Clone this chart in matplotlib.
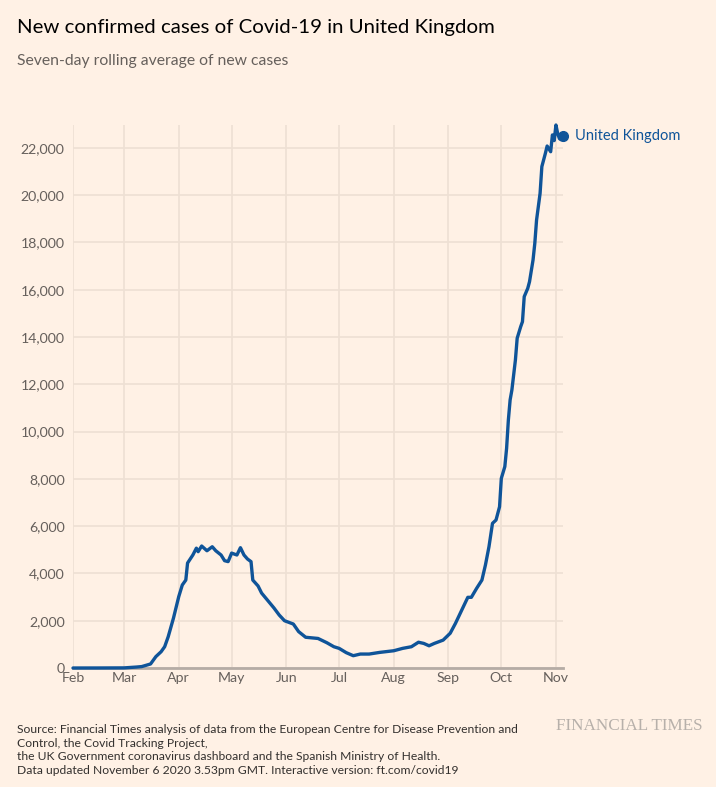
import matplotlib
matplotlib.use("Agg")
import matplotlib.pyplot as plt
import matplotlib.dates as mdates
import pandas as pd

plt.rcParams['font.family'] = ['Lato', 'DejaVu Sans']

dates = [
    "2020-02-01", "2020-02-15", "2020-03-01", "2020-03-05", "2020-03-08",
    "2020-03-11", "2020-03-16", "2020-03-19", "2020-03-22", "2020-03-24",
    "2020-03-26", "2020-03-29", "2020-04-01", "2020-04-03", "2020-04-05",
    "2020-04-06", "2020-04-09", "2020-04-11", "2020-04-12", "2020-04-14",
    "2020-04-17", "2020-04-20", "2020-04-22", "2020-04-25", "2020-04-27",
    "2020-04-29", "2020-05-01", "2020-05-04", "2020-05-06", "2020-05-08",
    "2020-05-10", "2020-05-12", "2020-05-13", "2020-05-16", "2020-05-18",
    "2020-05-22", "2020-05-25", "2020-05-28", "2020-05-31", "2020-06-05",
    "2020-06-08", "2020-06-12", "2020-06-19", "2020-06-24", "2020-06-28",
    "2020-07-01", "2020-07-05", "2020-07-09", "2020-07-13", "2020-07-18",
    "2020-07-24", "2020-08-01", "2020-08-06", "2020-08-11", "2020-08-15",
    "2020-08-18", "2020-08-21", "2020-08-24", "2020-08-29", "2020-09-02",
    "2020-09-05", "2020-09-09", "2020-09-12", "2020-09-14", "2020-09-17",
    "2020-09-20", "2020-09-22", "2020-09-24", "2020-09-26", "2020-09-28",
    "2020-09-30", "2020-10-01", "2020-10-03", "2020-10-04", "2020-10-05",
    "2020-10-06", "2020-10-07", "2020-10-09", "2020-10-10", "2020-10-12",
    "2020-10-13", "2020-10-14", "2020-10-16", "2020-10-17", "2020-10-19",
    "2020-10-20", "2020-10-21", "2020-10-23", "2020-10-24", "2020-10-26",
    "2020-10-27", "2020-10-29", "2020-10-30", "2020-10-31", "2020-11-01",
    "2020-11-02", "2020-11-03", "2020-11-04", "2020-11-05",
]
cases = [
    0, 1, 5, 25, 40,
    60, 170, 480, 690, 900,
    1320, 2110, 3020, 3510, 3720,
    4440, 4780, 5070, 4920, 5160,
    4960, 5130, 4960, 4780, 4540,
    4500, 4860, 4780, 5090, 4780,
    4610, 4500, 3720, 3470, 3170,
    2810, 2540, 2240, 2000, 1860,
    1540, 1300, 1250, 1070, 900,
    830, 650, 520, 590, 590,
    660, 730, 830, 900, 1090,
    1040, 940, 1040, 1180, 1470,
    1890, 2520, 2990, 2990, 3370,
    3720, 4360, 5130, 6120, 6260,
    6820, 8020, 8520, 9290, 10490,
    11340, 11760, 13030, 13950, 14440,
    14650, 15710, 16060, 16340, 17260,
    17960, 18950, 20080, 21210, 21770,
    22080, 21840, 22550, 22310, 22970,
    22600, 22390, 22350, 22500,
]
series_name = "United Kingdom"
month_ticks = ["2020-02-01", "2020-03-01", "2020-04-01", "2020-05-01", "2020-06-01",
               "2020-07-01", "2020-08-01", "2020-09-01", "2020-10-01", "2020-11-01"]
month_labels = ["Feb", "Mar", "Apr", "May", "Jun", "Jul", "Aug", "Sep", "Oct", "Nov"]
y_ticks = list(range(0, 22001, 2000))

title = "New confirmed cases of Covid-19 in United Kingdom"
subtitle = "Seven-day rolling average of new cases"
source_lines = [
    "Source: Financial Times analysis of data from the European Centre for Disease Prevention and",
    "Control, the Covid Tracking Project,",
    "the UK Government coronavirus dashboard and the Spanish Ministry of Health.",
    "Data updated November 6 2020 3.53pm GMT. Interactive version: ft.com/covid19",
]

BG = "#fff1e5"
BLUE = "#0f5499"
GRID = "#eee0d4"
TXT = "#66605c"

x = pd.to_datetime(dates)
W, H = 716, 787
fig = plt.figure(figsize=(W / 100, H / 100), dpi=100, facecolor=BG)
ax = fig.add_axes([73 / W, 1 - 668 / H, (563 - 73) / W, (668 - 125) / H], facecolor=BG)

ax.plot(x, cases, color=BLUE, lw=2.4, solid_joinstyle="round", solid_capstyle="round",
        clip_on=False, zorder=3)
ax.plot([x[-1]], [cases[-1]], "o", color=BLUE, ms=7, clip_on=False, zorder=4)
ax.annotate(series_name, xy=(x[-1], cases[-1]), xytext=(8.5, 0), textcoords="offset points",
            va="center", ha="left", color=BLUE, fontsize=10.5, annotation_clip=False)

ax.set_xlim(pd.Timestamp("2020-02-01"), pd.Timestamp("2020-11-05"))
ax.set_ylim(0, 22970)
ax.set_xticks(pd.to_datetime(month_ticks))
ax.set_xticklabels(month_labels)
ax.set_yticks(y_ticks)
ax.set_yticklabels([f"{v:,}" for v in y_ticks])
ax.tick_params(axis="both", length=0, colors=TXT, labelsize=10.2)
ax.tick_params(axis="y", pad=6)
ax.tick_params(axis="x", pad=3)
ax.grid(True, color=GRID, lw=1.2)
ax.set_axisbelow(True)
for s in ["top", "right", "left"]:
    ax.spines[s].set_visible(False)
ax.spines["bottom"].set_color("#b5aca5")
ax.spines["bottom"].set_linewidth(2)
ax.spines["bottom"].set_zorder(2)

fig.text(17 / W, 1 - 27 / H, title, fontsize=14.65, color="#000000", va="center", ha="left")
fig.text(17 / W, 1 - 61 / H, subtitle, fontsize=11.3, color=TXT, va="center", ha="left")
for i, line in enumerate(source_lines):
    fig.text(17 / W, 1 - (729.5 + i * 13.7) / H, line, fontsize=8.75, color="#33302e",
             va="center", ha="left")
fig.text(702 / W, 1 - 726 / H, "FINANCIAL TIMES", fontsize=12.3, color="#b7b0aa",
         va="center", ha="right", family="Liberation Serif")

fig.savefig("out.png", dpi=100, facecolor=BG)
